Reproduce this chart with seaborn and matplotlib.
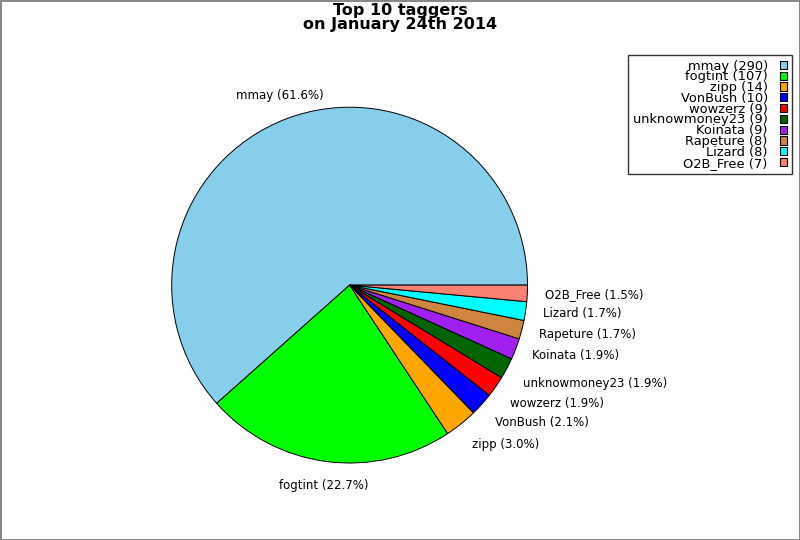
import matplotlib
matplotlib.use("Agg")
import math
import matplotlib.pyplot as plt
import seaborn as sns

taggers = ["mmay", "fogtint", "zipp", "VonBush", "wowzerz", "unknowmoney23",
           "Koinata", "Rapeture", "Lizard", "O2B_Free"]
counts = [290, 107, 14, 10, 9, 9, 9, 8, 8, 7]
colors = ["#87CEEB", "#00FF00", "#FFA500", "#0000FF", "#FF0000", "#006400",
          "#A020F0", "#CD853F", "#00FFFF", "#FA8072"]
title = "Top 10 taggers\non January 24th 2014"

sns.set_style("white")
plt.rcParams["font.family"] = ["DejaVu Sans"]
plt.rcParams["text.color"] = "black"

total = sum(counts)
pie_labels = ["%s (%.1f%%)" % (t, 100.0 * c / total) for t, c in zip(taggers, counts)]
legend_labels = ["%s (%d)" % (t, c) for t, c in zip(taggers, counts)]

fig = plt.figure(figsize=(8, 5.4), dpi=100, facecolor="white",
                 edgecolor="#888888", linewidth=2)
ax = fig.add_axes([0.159, 0.060, 0.556, 0.824])
wedges, texts = ax.pie(counts, labels=pie_labels, colors=sns.color_palette(colors),
                       startangle=0, counterclock=True, labeldistance=1.1,
                       wedgeprops=dict(edgecolor="black", linewidth=0.7),
                       textprops=dict(fontsize=8.5, color="black"))
ax.set_xlim(-1.25, 1.25)
ax.set_ylim(-1.25, 1.25)
ax.set_aspect("equal")

# labels on the left side are centred, steep ones pushed off the pie
for w, t in zip(wedges, texts):
    mid = math.radians((w.theta1 + w.theta2) / 2)
    if math.cos(mid) < 0:
        t.set_ha("center")
    s = math.sin(mid)
    if s > 0.4:
        t.set_va("bottom")
    elif s < -0.4:
        t.set_va("top")

fig.text(0.5, 0.995, title, ha="center", va="top", fontsize=11.5,
         fontweight="bold", linespacing=0.9)

leg = fig.legend(wedges, legend_labels, loc="upper right",
                 bbox_to_anchor=(792 / 800, 1 - 55 / 540), borderaxespad=0,
                 markerfirst=False, fancybox=False, frameon=True,
                 fontsize=9.4, labelspacing=-0.17, handlelength=0.6,
                 handleheight=0.6, handletextpad=0.9, borderpad=0.35)
leg.get_frame().set_edgecolor("black")
leg.get_frame().set_linewidth(1.0)
for t in leg.get_texts():
    t.set_ha("right")
for h in leg.legend_handles:
    h.set_edgecolor("black")
    h.set_linewidth(0.8)

fig.savefig("out.png", dpi=100, facecolor=fig.get_facecolor(),
            edgecolor=fig.get_edgecolor())
